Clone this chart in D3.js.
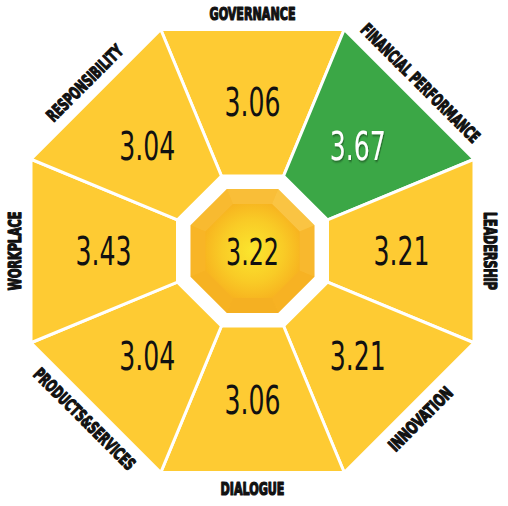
<!DOCTYPE html>
<html><head><meta charset="utf-8">
<script src="https://cdn.jsdelivr.net/npm/d3@7"></script>
<style>html,body{margin:0;padding:0;background:#fff;}svg{display:block;}</style>
</head><body>
<svg id="chart" width="508" height="506"></svg>
<script>
const categories = ["GOVERNANCE","FINANCIAL PERFORMANCE","LEADERSHIP","INNOVATION","DIALOGUE","PRODUCTS&SERVICES","WORKPLACE","RESPONSIBILITY"];
const values = [3.06, 3.67, 3.21, 3.21, 3.06, 3.04, 3.43, 3.04];
const overall = 3.22;
const highlight = ["FINANCIAL PERFORMANCE"];
const labelWidths = [86, 160, 78, 83, 64, 136, 79, 100];

const cx = 252.5, cy = 251;
const svg = d3.select("#chart");
const rad = Math.PI/180;

const angle = d3.scaleLinear().domain([0, categories.length]).range([-90, 270]);
const aOuter = 221.5, aInner = 75, aValue = 149, aLabel = 237.5;
const sec = 1/Math.cos(22.5*rad);

function pt(deg, r){ return [cx + r*Math.cos(deg*rad), cy + r*Math.sin(deg*rad)]; }

const defs = svg.append("defs");
const rg = defs.append("radialGradient").attr("id","core").attr("cx","50%").attr("cy","50%").attr("r","55%");
rg.append("stop").attr("offset","0%").attr("stop-color","#FBE62E");
rg.append("stop").attr("offset","60%").attr("stop-color","#F9CB26");
rg.append("stop").attr("offset","100%").attr("stop-color","#F7B21F");
const sh = defs.append("filter").attr("id","shadow").attr("x","-20%").attr("y","-20%").attr("width","140%").attr("height","140%");
sh.append("feDropShadow").attr("dx",1).attr("dy",1.5).attr("stdDeviation",1).attr("flood-color","#000").attr("flood-opacity",0.45);

const data = categories.map((c,i)=>({cat:c, value:values[i], i, th:angle(i)}));

svg.append("g").selectAll("path").data(data).join("path")
  .attr("d", d => {
    const a0 = d.th - 22.5, a1 = d.th + 22.5;
    const p = [pt(a0, aOuter*sec), pt(a1, aOuter*sec), pt(a1, aInner*sec), pt(a0, aInner*sec)];
    return "M" + p.map(q=>q.join(",")).join("L") + "Z";
  })
  .attr("fill", d => highlight.includes(d.cat) ? "#3BA746" : "#FECB33")
  .attr("stroke", "#fff").attr("stroke-width", 3).attr("stroke-linejoin","miter");

function octo(r){ return "M" + d3.range(8).map(k=>pt(-112.5 + k*45, r*sec).join(",")).join("L") + "Z"; }
svg.append("path").attr("d", octo(62)).attr("fill","#F8B424");
const facetShade = [0.16, 0.26, 0.08, -0.02, -0.05, -0.03, 0.02, 0.1];
svg.append("g").selectAll("path").data(d3.range(8)).join("path")
  .attr("d", k => {
    const th = -90 + k*45, a0 = th-22.5, a1 = th+22.5;
    const p = [pt(a0, 62*sec), pt(a1, 62*sec), pt(a1, 47*sec), pt(a0, 47*sec)];
    return "M" + p.map(q=>q.join(",")).join("L") + "Z";
  })
  .attr("fill", k => facetShade[k] >= 0 ? "#FFF3A0" : "#C97A00")
  .attr("fill-opacity", k => Math.abs(facetShade[k]));
svg.append("path").attr("d", octo(47)).attr("fill","url(#core)");

const numFont = "'Liberation Sans Narrow','DejaVu Sans Condensed','Roboto Condensed',sans-serif";

function fit(sel, widthFn, baseTransform){
  sel.each(function(d){
    const n = this.getComputedTextLength();
    const k = widthFn(d) / n;
    d3.select(this).attr("transform", baseTransform(d) + ` scale(${k},1)`);
  });
}

const vals = svg.append("g").selectAll("text").data(data).join("text")
  .attr("dy", "0.36em")
  .attr("text-anchor","middle")
  .attr("font-family", numFont)
  .attr("font-size", 39)
  .attr("fill", d => highlight.includes(d.cat) ? "#fff" : "#111")
  .attr("filter", d => highlight.includes(d.cat) ? "url(#shadow)" : null)
  .text(d => d.value.toFixed(2));
fit(vals, () => 56, d => { const p = pt(d.th, aValue); return `translate(${p[0]},${p[1]})`; });

const ctr = svg.append("text")
  .attr("dy","0.36em")
  .attr("text-anchor","middle")
  .attr("font-family", numFont).attr("font-size", 38)
  .attr("fill","#111")
  .text(overall.toFixed(2));
fit(ctr, () => 53, () => `translate(${cx},${cy})`);

const labs = svg.append("g").selectAll("text").data(data).join("text")
  .attr("dy","0.36em")
  .attr("text-anchor","middle")
  .attr("font-family", numFont)
  .attr("font-weight","bold")
  .attr("font-size", 17)
  .attr("fill","#111")
  .attr("stroke","#111").attr("stroke-width",1.2).attr("stroke-linejoin","round")
  .text(d => d.cat);
fit(labs, d => labelWidths[d.i], d => {
  const p = pt(d.th, aLabel);
  const rot = (d.th > 0 && d.th < 180) ? d.th - 90 : d.th + 90;
  return `translate(${p[0]},${p[1]}) rotate(${rot})`;
});
</script>
</body></html>
